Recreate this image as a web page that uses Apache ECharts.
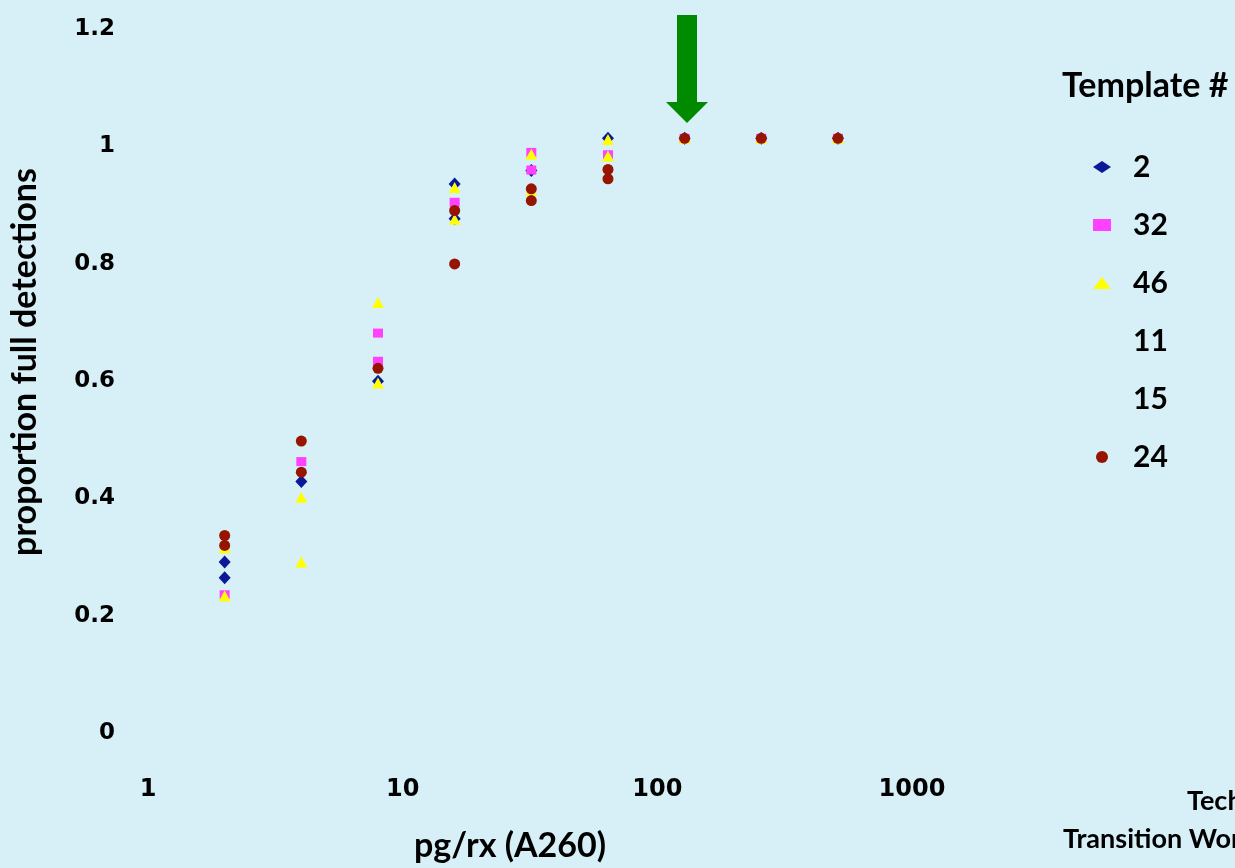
<!DOCTYPE html>
<html>
<head>
<meta charset="utf-8">
<title>proportion full detections</title>
<script src="https://cdn.jsdelivr.net/npm/echarts@6/dist/echarts.min.js"></script>
<style>
  html, body { margin: 0; padding: 0; background: #d7eff7; }
  #chart { width: 1235px; height: 868px; }
</style>
</head>
<body>
<div id="chart"></div>
<script>
// values, [pg/rx, proportion]
const templates = ["2", "32", "46", "11", "15", "24"];
const xTicks = [1, 10, 100, 1000];
const yTicks = [0, 0.2, 0.4, 0.6, 0.8, 1, 1.2];

const t2 = [[2, 0.278], [2, 0.251], [4, 0.415], [8, 0.586], [16, 0.922], [16, 0.863],
  [32, 0.945], [64, 1.0], [128, 1], [256, 1], [512, 1]];
const t32 = [[2, 0.222], [4, 0.449], [8, 0.668], [8, 0.62], [16, 0.891], [32, 0.976],
  [32, 0.946], [64, 0.972], [128, 1], [256, 1], [512, 1]];
const t46 = [[2, 0.302], [2, 0.22], [4, 0.388], [4, 0.278], [8, 0.72], [8, 0.583],
  [16, 0.916], [16, 0.862], [32, 0.973], [32, 0.912], [64, 0.998], [64, 0.97],
  [128, 1], [256, 1], [512, 1]];
const t11 = [];
const t15 = [];
const t24 = [[2, 0.323], [2, 0.306], [4, 0.484], [4, 0.431], [8, 0.608], [16, 0.877],
  [16, 0.786], [32, 0.914], [32, 0.894], [64, 0.947], [64, 0.931], [128, 1], [256, 1], [512, 1]];

const seriesData = [t2, t32, t46, t11, t15, t24];
const symbols = ["diamond", "rect", "triangle", "none", "none", "circle"];
const sizes = [[12, 13], [10, 9], [12, 11], 0, 0, [11, 11]];
const colors = ["#0a1a96", "#ff40ff", "#ffff00", "transparent", "transparent", "#961400"];

const tickFont = "'DejaVu Sans', Verdana, sans-serif";
const textFont = "Lato, 'Open Sans', sans-serif";

const chart = echarts.init(document.getElementById("chart"));

chart.setOption({
  backgroundColor: "#d7eff7",
  animation: false,
  grid: { left: 148, right: 323, top: 21, bottom: 139 },
  xAxis: {
    type: "log",
    logBase: 10,
    min: 1,
    max: 1000,
    axisLine: { show: false },
    axisTick: { show: false },
    splitLine: { show: false },
    axisLabel: {
      margin: 53,
      fontFamily: tickFont,
      fontWeight: "bold",
      fontSize: 24,
      color: "#000",
      formatter: v => (xTicks.includes(v) ? String(v) : "")
    },
    name: "pg/rx (A260)",
    nameLocation: "middle",
    nameGap: 104,
    nameTextStyle: {
      fontFamily: textFont, fontWeight: "bold", fontSize: 34, color: "#000",
      padding: [0, 40, 0, 0]
    }
  },
  yAxis: {
    type: "value",
    min: 0,
    max: 1.2,
    interval: 0.2,
    axisLine: { show: false },
    axisTick: { show: false },
    splitLine: { show: false },
    axisLabel: {
      margin: 33,
      verticalAlign: "top",
      lineHeight: 16,
      fontFamily: tickFont,
      fontWeight: "bold",
      fontSize: 23,
      color: "#000",
      formatter: v => {
        const t = yTicks.find(k => Math.abs(k - v) < 1e-6);
        return t === undefined ? "" : String(t);
      }
    },
    name: "proportion full detections",
    nameLocation: "middle",
    nameGap: 106,
    nameTextStyle: {
      fontFamily: textFont, fontWeight: "bold", fontSize: 34, color: "#000",
      padding: [0, 0, 0, 22]
    }
  },
  legend: {
    orient: "vertical",
    left: 1088,
    top: 147,
    itemWidth: 18,
    itemHeight: 12,
    itemGap: 28,
    textStyle: {
      fontFamily: textFont,
      fontWeight: "bold",
      fontSize: 30,
      lineHeight: 30,
      color: "#000",
      padding: [0, 0, 0, 17]
    },
    data: templates.map((name, i) => ({
      name: name,
      icon: symbols[i] === "none" ? "rect" : symbols[i],
      itemStyle: symbols[i] === "none" ? { opacity: 0 } : { color: colors[i], opacity: 1 }
    }))
  },
  graphic: [
    {
      type: "text",
      left: 1062,
      top: 69,
      style: {
        text: "Template #",
        fontFamily: textFont,
        fontWeight: "bold",
        fontSize: 34,
        fill: "#000"
      }
    },
    {
      type: "polygon",
      shape: {
        points: [[677, 15], [697, 15], [697, 102], [708, 102], [687, 123], [666, 102], [677, 102]]
      },
      style: { fill: "#008a00" }
    },
    {
      type: "text",
      left: 1187,
      top: 788,
      style: { text: "Technology", fontFamily: textFont, fontWeight: "bold", fontSize: 27, fill: "#000" }
    },
    {
      type: "text",
      left: 1063,
      top: 826,
      style: { text: "Transition Workshop", fontFamily: textFont, fontWeight: "bold", fontSize: 27, fill: "#000" }
    }
  ],
  series: templates.map((name, i) => ({
    name: name,
    type: "scatter",
    symbol: symbols[i],
    symbolSize: sizes[i],
    itemStyle: { color: colors[i], opacity: 1 },
    data: seriesData[i]
  }))
});
</script>
</body>
</html>
